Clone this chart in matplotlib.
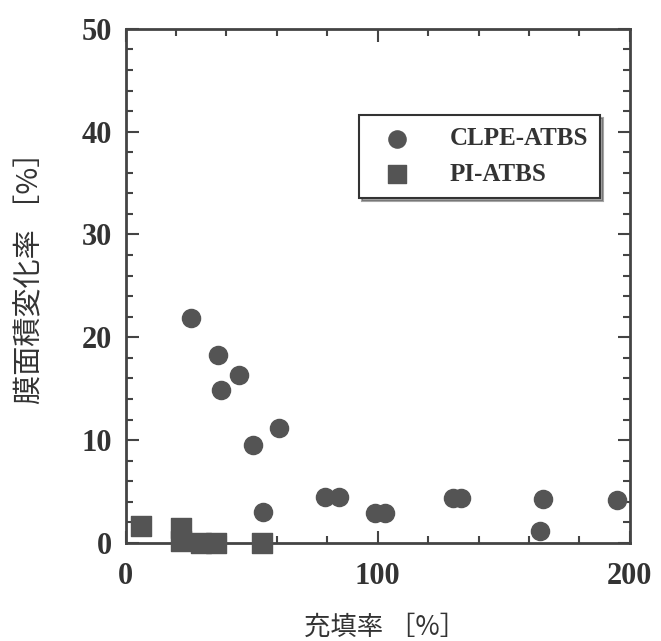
import matplotlib.pyplot as plt
from matplotlib.ticker import MultipleLocator

# CLPE-ATBS データ (充填率, 膜面積変化率)
clpe_x = [26, 36.5, 38, 45, 50.5, 61, 54.5, 79, 84.5, 99, 103, 130, 133, 165.5, 164.5, 195]
clpe_y = [21.9, 18.3, 14.9, 16.3, 9.5, 11.2, 3.0, 4.5, 4.5, 2.9, 2.9, 4.4, 4.4, 4.3, 1.2, 4.2]

# PI-ATBS データ
pi_x = [6, 22, 22, 30, 36, 54]
pi_y = [1.6, 1.5, 0.2, 0.0, 0.0, 0.0]

plt.rcParams['font.family'] = ['Liberation Serif', 'Noto Sans CJK JP']

fig = plt.figure(figsize=(6.61, 6.41), dpi=100)
ax = fig.add_axes([0.19, 0.153, 0.763, 0.802])

mc = '#545454'
ax.scatter(clpe_x, clpe_y, s=170, marker='o', color=mc, label='CLPE-ATBS', zorder=3, clip_on=False)
ax.scatter(pi_x, pi_y, s=190, marker='s', color=mc, label='PI-ATBS', zorder=3, clip_on=False)

ax.set_xlim(0, 200)
ax.set_ylim(0, 50)
ax.xaxis.set_major_locator(MultipleLocator(100))
ax.xaxis.set_minor_locator(MultipleLocator(20))
ax.yaxis.set_major_locator(MultipleLocator(10))
ax.yaxis.set_minor_locator(MultipleLocator(2))
ax.tick_params(which='both', direction='in', top=True, right=True, width=1.5, color='#444')
ax.tick_params(which='major', length=9)
ax.tick_params(which='minor', length=5)
ax.tick_params(axis='y', labelsize=22, pad=10)
ax.tick_params(axis='x', labelsize=22, pad=14)
for lbl in ax.get_xticklabels() + ax.get_yticklabels():
    lbl.set_fontweight('bold')
    lbl.set_color('#333')
for sp in ax.spines.values():
    sp.set_linewidth(2)
    sp.set_color('#444')

ax.set_xlabel('充填率 ［%］', fontsize=19, color='#333', labelpad=16,
              family=['Noto Sans CJK JP'])
ax.set_ylabel('膜面積変化率 ［%］', fontsize=21, color='#333', labelpad=26,
              family=['Noto Sans CJK JP'])
ax.xaxis.label.set_x(0.515)
ax.yaxis.label.set_y(0.53)

leg = ax.legend(loc='upper right', bbox_to_anchor=(0.966, 0.857), shadow=True, fancybox=False,
                edgecolor='#333', framealpha=1, prop={'weight': 'bold', 'size': 18},
                borderpad=0.5, handletextpad=1.1, labelspacing=0.5, markerscale=0.95)
leg.get_frame().set_linewidth(1.5)
for t in leg.get_texts():
    t.set_color('#333')

plt.savefig('out.png', dpi=100)
